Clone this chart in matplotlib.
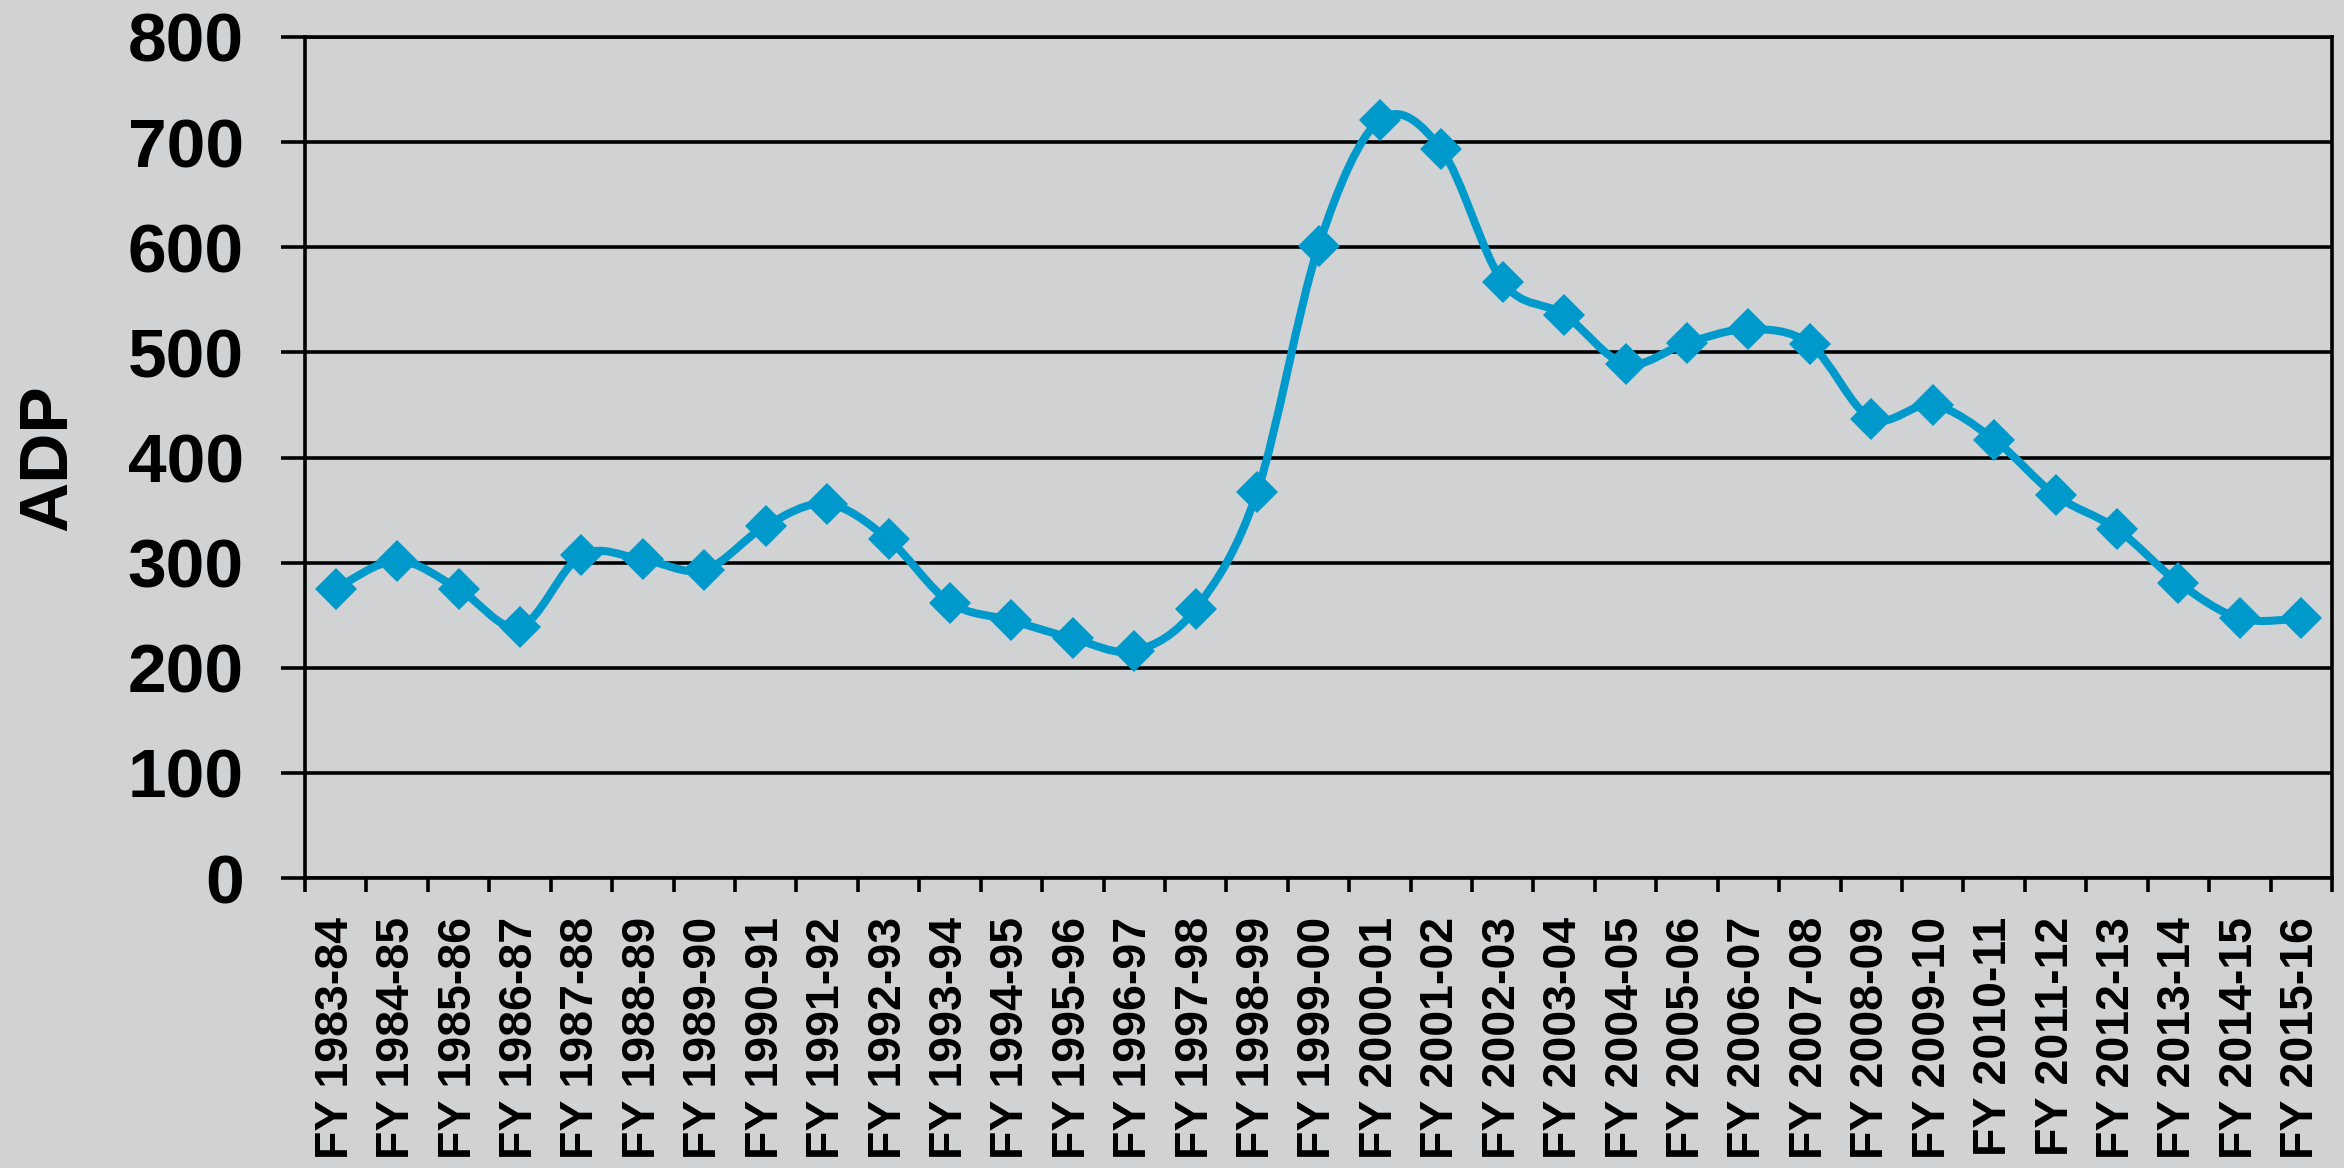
import numpy as np
import matplotlib
matplotlib.use("Agg")
from matplotlib import pyplot as plt
from matplotlib.path import Path
from matplotlib.patches import PathPatch

# fiscal years and ADP values
years = ["1983-84", "1984-85", "1985-86", "1986-87", "1987-88", "1988-89",
         "1989-90", "1990-91", "1991-92", "1992-93", "1993-94", "1994-95",
         "1995-96", "1996-97", "1997-98", "1998-99", "1999-00", "2000-01",
         "2001-02", "2002-03", "2003-04", "2004-05", "2005-06", "2006-07",
         "2007-08", "2008-09", "2009-10", "2010-11", "2011-12", "2012-13",
         "2013-14", "2014-15", "2015-16"]
adp = [275, 302, 275, 239, 307, 303, 293, 335, 356, 322, 262, 245,
       228, 216, 256, 367, 601, 721, 693, 567, 536, 489, 509, 522,
       508, 437, 450, 417, 364, 332, 281, 247, 247]
labels = ["FY " + y for y in years]
yticks = [0, 100, 200, 300, 400, 500, 600, 700, 800]

bg = "#D1D2D4"
blue = "#0099CC"

plt.rcParams['font.family'] = ['Liberation Sans', 'DejaVu Sans']
plt.rcParams['font.weight'] = 'bold'

fig = plt.figure(figsize=(23.44, 11.68), dpi=100, facecolor=bg)
ax = fig.add_axes([305/2344, 1 - 878/1168, (2332-305)/2344, (878-37)/1168])
ax.set_facecolor(bg)

x = np.arange(len(adp))
y = np.array(adp, dtype=float)

# smoothed line like excel: cubic bezier segments through the points
verts = [(x[0], y[0])]
codes = [Path.MOVETO]
n = len(x)
for i in range(n - 1):
    p0 = np.array([x[max(i-1, 0)], y[max(i-1, 0)]])
    p1 = np.array([x[i], y[i]])
    p2 = np.array([x[i+1], y[i+1]])
    p3 = np.array([x[min(i+2, n-1)], y[min(i+2, n-1)]])
    c1 = p1 + (p2 - p0) / 6
    c2 = p2 - (p3 - p1) / 6
    verts += [tuple(c1), tuple(c2), tuple(p2)]
    codes += [Path.CURVE4] * 3
ax.add_patch(PathPatch(Path(verts, codes), fill=False, edgecolor=blue,
                       lw=5.8, zorder=3, capstyle='round', joinstyle='round'))
ax.plot(x, y, linestyle='none', marker='D', ms=21, color=blue,
        markeredgewidth=0, zorder=4)

ax.set_xlim(-0.5, len(adp) - 0.5)
ax.set_ylim(0, 800)
ax.set_yticks(yticks)
ax.set_yticklabels([str(v) for v in yticks], fontsize=50, fontweight='bold')
ax.yaxis.grid(True, color='black', lw=2.6)
ax.set_axisbelow(True)

ax.set_xticks(np.arange(-0.5, len(adp)), minor=False)
ax.set_xticklabels([])
ax.set_xticks(x, minor=True)
ax.set_xticklabels(labels, minor=True, rotation=90, fontsize=33.5,
                   fontweight='bold')
ax.tick_params(axis='x', which='major', length=10, width=2.6, direction='out')
ax.tick_params(axis='x', which='minor', length=0, pad=28)
ax.tick_params(axis='y', length=17, width=2.6, direction='out', pad=27)

for s in ax.spines.values():
    s.set_color('black')
    s.set_linewidth(2.6)

ax.set_ylabel('ADP', fontsize=50, fontweight='bold', va='center')
ax.yaxis.set_label_coords((48 - 305) / 2027, 0.5)

fig.savefig("out.png", dpi=100, facecolor=bg)
